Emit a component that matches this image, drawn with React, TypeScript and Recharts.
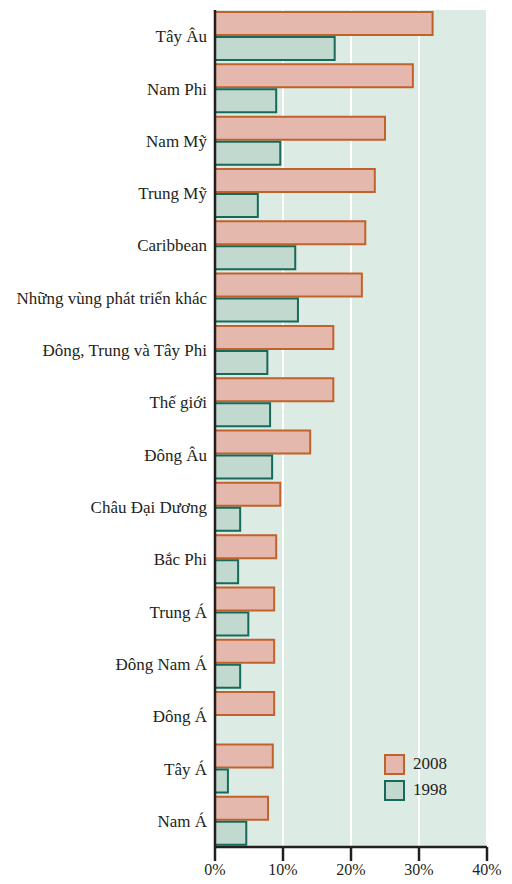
import React from "react";
import {
  BarChart,
  Bar,
  XAxis,
  YAxis,
  CartesianGrid,
} from "recharts";

const regions = [
  "Tây Âu",
  "Nam Phi",
  "Nam Mỹ",
  "Trung Mỹ",
  "Caribbean",
  "Những vùng phát triển khác",
  "Đông, Trung và Tây Phi",
  "Thế giới",
  "Đông Âu",
  "Châu Đại Dương",
  "Bắc Phi",
  "Trung Á",
  "Đông Nam Á",
  "Đông Á",
  "Tây Á",
  "Nam Á",
];

const values2008 = [32.0, 29.1, 25.0, 23.5, 22.1, 21.6, 17.4, 17.4, 14.0, 9.6, 9.0, 8.7, 8.7, 8.7, 8.5, 7.8];
const values1998 = [17.6, 9.0, 9.6, 6.3, 11.8, 12.2, 7.7, 8.1, 8.4, 3.7, 3.4, 4.9, 3.7, 0, 1.9, 4.6];

const xTicks = [0, 10, 20, 30, 40];

const data = regions.map((name, i) => ({
  name,
  y2008: values2008[i],
  y1998: values1998[i],
}));

const FONT = "'Liberation Serif', 'DejaVu Serif', serif";
const TEXT = "#231f20";

const C2008 = { fill: "#e4b8ac", stroke: "#c2622b" };
const C1998 = { fill: "#c1d9cf", stroke: "#17695a" };

// legend drawn as an overlay so it doesn't eat plot height
function LegendBox() {
  const items = [
    { label: "2008", ...C2008 },
    { label: "1998", ...C1998 },
  ];
  return (
    <div
      style={{
        position: "absolute",
        left: 384,
        top: 751,
        fontFamily: FONT,
        color: TEXT,
        fontSize: 17,
      }}
    >
      {items.map((it) => (
        <div key={it.label} style={{ display: "flex", alignItems: "center", height: 26 }}>
          <span
            style={{
              display: "inline-block",
              width: 17,
              height: 17,
              background: it.fill,
              border: `2px solid ${it.stroke}`,
              marginRight: 8,
            }}
          />
          {it.label}
        </div>
      ))}
    </div>
  );
}

export default function App() {
  return (
    <div style={{ position: "absolute", left: 0, top: 0, width: 512, height: 884, background: "#fff" }}>
      <BarChart
        width={512}
        height={884}
        data={data}
        layout="vertical"
        margin={{ top: 10, right: 25, bottom: 0, left: 0 }}
        barSize={23}
        barGap={2}
      >
        <CartesianGrid
          horizontal={false}
          fill="#dcebe4"
          fillOpacity={1}
          stroke="#ffffff"
          strokeWidth={2}
        />
        <XAxis
          type="number"
          domain={[0, 40]}
          ticks={xTicks}
          tickFormatter={(v) => `${v}%`}
          height={37}
          axisLine={{ stroke: "#231f20", strokeWidth: 2.5 }}
          tickLine={{ stroke: "#231f20", strokeWidth: 2.5 }}
          tickSize={14}
          tickMargin={3}
          tick={{ fill: TEXT, fontSize: 16, fontFamily: FONT }}
        />
        <YAxis
          type="category"
          dataKey="name"
          width={215}
          axisLine={{ stroke: "#231f20", strokeWidth: 2.5 }}
          tickLine={false}
          tickSize={0}
          tickMargin={8}
          interval={0}
          tick={{ fill: TEXT, fontSize: 17, fontFamily: FONT }}
        />
        <Bar
          dataKey="y2008"
          name="2008"
          fill={C2008.fill}
          stroke={C2008.stroke}
          strokeWidth={2}
          isAnimationActive={false}
        />
        <Bar
          dataKey="y1998"
          name="1998"
          fill={C1998.fill}
          stroke={C1998.stroke}
          strokeWidth={2}
          isAnimationActive={false}
        />
      </BarChart>
      <LegendBox />
    </div>
  );
}
